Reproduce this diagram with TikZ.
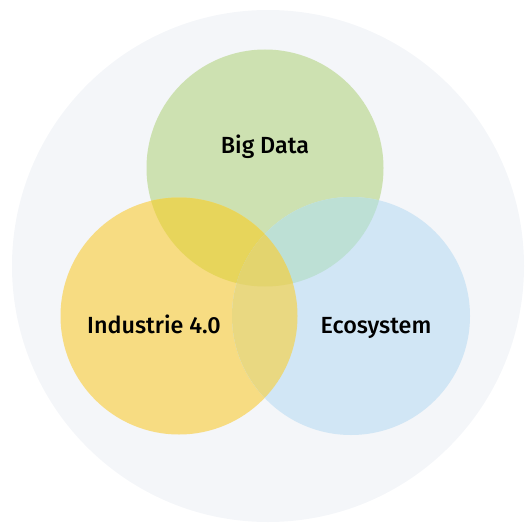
\documentclass[tikz,border=0pt]{standalone}
\usepackage{fontspec}
\setmainfont{Fira Sans}[UprightFont={* Medium}]

\definecolor{ringbg}{RGB}{244,246,249}
\definecolor{greenc}{RGB}{205,225,177}
\definecolor{yellowc}{RGB}{247,220,130}
\definecolor{bluec}{RGB}{209,230,245}
\definecolor{greenyellow}{RGB}{231,213,91}
\definecolor{greenblue}{RGB}{189,224,213}
\definecolor{yellowblue}{RGB}{233,216,129}
\definecolor{allthree}{RGB}{227,212,110}

\tikzset{
  venn label/.style={font=\fontsize{17.5}{21}\selectfont, text=black, inner sep=0.75pt, anchor=base},
}

\begin{document}
\begin{tikzpicture}[x=0.75pt,y=0.75pt,yscale=-1,xscale=1]
\path[use as bounding box] (0,0) rectangle (527,528);

%Shape: Circle (background)
\fill[ringbg] (268,266) circle (256);

%Shape: Circle (green, top)
\fill[greenc] (265,168) circle (118.5);
%Shape: Circle (yellow, left)
\fill[yellowc] (179,316) circle (118.5);
%Shape: Circle (blue, right)
\fill[bluec] (351,316) circle (119);

% overlaps
\begin{scope}
  \clip (265,168) circle (118.5);
  \fill[greenyellow] (179,316) circle (118.5);
  \fill[greenblue] (351,316) circle (119);
\end{scope}
\begin{scope}
  \clip (179,316) circle (118.5);
  \fill[yellowblue] (351,316) circle (119);
\end{scope}
\begin{scope}
  \clip (265,168) circle (118.5);
  \clip (179,316) circle (118.5);
  \fill[allthree] (351,316) circle (119);
\end{scope}

% Text Node
\node[venn label] (bigdata) at (265,153) {Big Data};
% Text Node
\node[venn label] (industrie) at (154,333) {Industrie 4.0};
% Text Node
\node[venn label] (ecosystem) at (376,333) {Ecosystem};

\end{tikzpicture}
\end{document}
